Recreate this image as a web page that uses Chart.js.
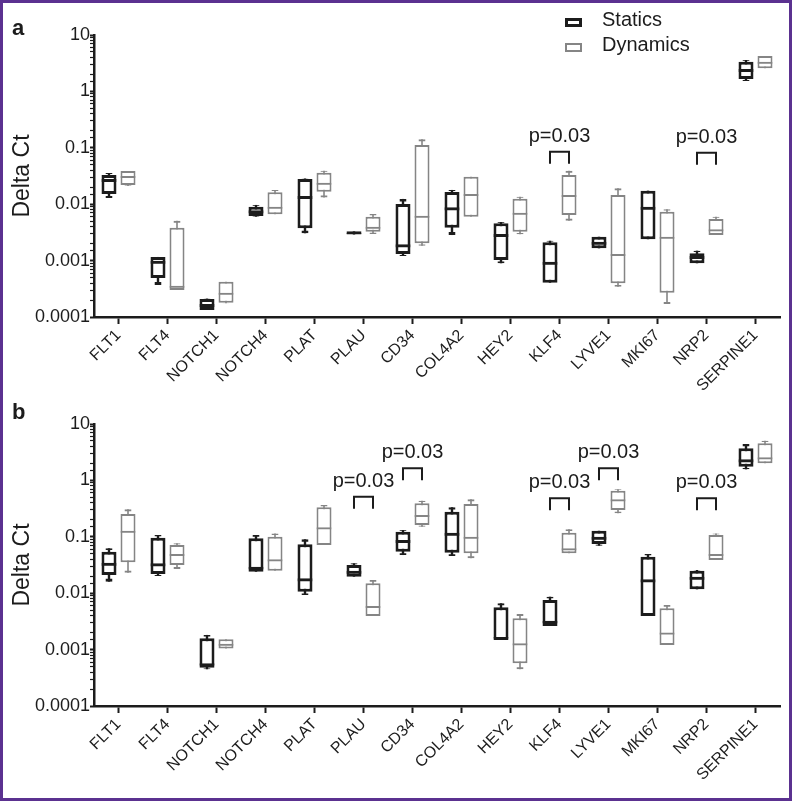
<!DOCTYPE html>
<html>
<head>
<meta charset="utf-8">
<title>Delta Ct - Statics vs Dynamics</title>
<script src="https://cdn.jsdelivr.net/npm/chart.js@4.4.1/dist/chart.umd.min.js"></script>
<style>
  html, body { margin: 0; padding: 0; background: #fff; }
  #wrap { position: relative; width: 792px; height: 801px; overflow: hidden;
          font-family: "Liberation Sans", Arial, sans-serif; color: #1c1c1c; }
  canvas { position: absolute; left: 0; }
  #chartA { top: 0; }
  #chartB { top: 400px; }
  #frame { position: absolute; left: 0; top: 0; width: 792px; height: 801px;
           box-sizing: border-box; border: 3px solid #5b3190; pointer-events: none; }
  .tag { position: absolute; font-weight: bold; font-size: 22px; line-height: 22px; }
  .leg { position: absolute; left: 602px; font-size: 20px; line-height: 20px; }
  .legbox { position: absolute; left: 565px; width: 17px; height: 9px; box-sizing: border-box; }
</style>
</head>
<body>
<div id="wrap">
  <canvas id="chartA" width="792" height="400"></canvas>
  <canvas id="chartB" width="792" height="401"></canvas>
  <div class="tag" style="left:12px; top:17px;">a</div>
  <div class="tag" style="left:12px; top:401px;">b</div>
  <div class="legbox" style="top:18px; border:3px solid #1c1c1c;"></div>
  <div class="leg" style="top:9px;">Statics</div>
  <div class="legbox" style="top:43px; border:2px solid #858585;"></div>
  <div class="leg" style="top:34px;">Dynamics</div>
  <div id="frame"></div>
</div>
<script>
'use strict';

// ======= data =======

var genes = ['FLT1', 'FLT4', 'NOTCH1', 'NOTCH4', 'PLAT', 'PLAU', 'CD34', 'COL4A2',
  'HEY2', 'KLF4', 'LYVE1', 'MKI67', 'NRP2', 'SERPINE1'];

var yTickLabels = ['0.0001', '0.001', '0.01', '0.1', '1', '10'];

// each row: [min, q1, median, q3, max], one row per gene
var staticsA = [
  [0.0129, 0.0152, 0.028, 0.033, 0.0357],
  [0.00037, 0.00049, 0.000995, 0.00116, 0.00116],
  [0.000133, 0.000133, 0.00017, 0.000208, 0.000212],
  [0.006, 0.00618, 0.0078, 0.00903, 0.0097],
  [0.00305, 0.00374, 0.014, 0.028, 0.0286],
  [0.0029, 0.0029, 0.0031, 0.0033, 0.0033],
  [0.00121, 0.00131, 0.00195, 0.0101, 0.0124],
  [0.00284, 0.00383, 0.0088, 0.0164, 0.0179],
  [0.000896, 0.00103, 0.00296, 0.00458, 0.00483],
  [0.000405, 0.000405, 0.000955, 0.00211, 0.00225],
  [0.00165, 0.00165, 0.00216, 0.00265, 0.00265],
  [0.00239, 0.00239, 0.00903, 0.0174, 0.0174],
  [0.000896, 0.000896, 0.00121, 0.00135, 0.0015],
  [1.53, 1.66, 2.5, 3.37, 3.6]
];

var dynamicsA = [
  [0.021, 0.0219, 0.0316, 0.0388, 0.0388],
  [0.000301, 0.000301, 0.000359, 0.00383, 0.0051],
  [0.000176, 0.000179, 0.00027, 0.000423, 0.000423],
  [0.00662, 0.00662, 0.00903, 0.0163, 0.0179],
  [0.0132, 0.0167, 0.024, 0.0362, 0.0393],
  [0.00296, 0.00325, 0.004, 0.006, 0.0067],
  [0.00184, 0.00203, 0.00625, 0.112, 0.1416],
  [0.006, 0.006, 0.0152, 0.0308, 0.0308],
  [0.00292, 0.00325, 0.00706, 0.0125, 0.0136],
  [0.0051, 0.00644, 0.0146, 0.033, 0.0393],
  [0.000345, 0.000396, 0.00131, 0.0146, 0.0191],
  [0.00017, 0.00027, 0.00265, 0.00736, 0.00813],
  [0.00284, 0.00284, 0.00359, 0.00547, 0.006],
  [2.57, 2.57, 3.37, 4.25, 4.25]
];

var staticsB = [
  [0.016, 0.021, 0.0348, 0.0544, 0.0625],
  [0.0202, 0.0219, 0.0339, 0.0964, 0.1076],
  [0.000448, 0.000478, 0.000571, 0.00159, 0.00182],
  [0.024, 0.024, 0.0295, 0.094, 0.1076],
  [0.0093, 0.0106, 0.0184, 0.0736, 0.0903],
  [0.0196, 0.0196, 0.025, 0.0316, 0.0339],
  [0.0475, 0.0544, 0.0877, 0.123, 0.132],
  [0.0457, 0.0522, 0.118, 0.279, 0.334],
  [0.00148, 0.00148, 0.00167, 0.00562, 0.00662],
  [0.00262, 0.00262, 0.00325, 0.00757, 0.00867],
  [0.0695, 0.0745, 0.1, 0.128, 0.128],
  [0.00394, 0.00394, 0.0176, 0.0444, 0.0496],
  [0.0117, 0.0117, 0.0196, 0.025, 0.0258],
  [1.57, 1.75, 2.37, 3.7, 4.41]
];

var dynamicsB = [
  [0.0231, 0.0353, 0.128, 0.254, 0.307],
  [0.0269, 0.0316, 0.0496, 0.0716, 0.0767],
  [0.00105, 0.00105, 0.00127, 0.00152, 0.00152],
  [0.025, 0.025, 0.0399, 0.1, 0.115],
  [0.0716, 0.0716, 0.147, 0.334, 0.366],
  [0.00394, 0.00394, 0.00593, 0.015, 0.0171],
  [0.151, 0.162, 0.244, 0.393, 0.436],
  [0.0416, 0.0509, 0.1, 0.382, 0.463],
  [0.000448, 0.000571, 0.00129, 0.00359, 0.00428],
  [0.0509, 0.0509, 0.0625, 0.118, 0.136],
  [0.261, 0.299, 0.463, 0.656, 0.695],
  [0.00121, 0.00121, 0.002, 0.0054, 0.00618],
  [0.0388, 0.0388, 0.0496, 0.1076, 0.115],
  [2.01, 2.01, 2.57, 4.55, 5.06]
];

// significance brackets: gene, bracket level (Delta Ct), text
var pGenesA = ['KLF4', 'NRP2'];
var pLevelsA = [0.085, 0.082];
var pTextsA = ['p=0.03', 'p=0.03'];

var pGenesB = ['PLAU', 'CD34', 'KLF4', 'LYVE1', 'NRP2'];
var pLevelsB = [0.514, 1.64, 0.482, 1.64, 0.482];
var pTextsB = ['p=0.03', 'p=0.03', 'p=0.03', 'p=0.03', 'p=0.03'];

// ======= styles =======

var FONT = '"Liberation Sans", Arial, sans-serif';
var INK = '#1c1c1c';
var STAT_COLOR = '#1c1c1c';
var DYN_COLOR = '#858585';

Chart.defaults.font.family = FONT;
Chart.defaults.color = INK;

// ======= box plot from floating bars =======

function noBorder() { return { top: 0, right: 0, bottom: 0, left: 0 }; }

function boxDatasets(rows, label, color, lineW, stack) {
  var common = { label: label, stack: stack, categoryPercentage: 0.776, borderSkipped: false };
  var med = Object.assign({}, common, {
    data: rows.map(function (r) { return [r[1], r[2]]; }),
    backgroundColor: 'rgba(0,0,0,0)', borderColor: color,
    borderWidth: Object.assign(noBorder(), { top: lineW }), barPercentage: 0.79
  });
  var box = Object.assign({}, common, {
    data: rows.map(function (r) { return [r[1], r[3]]; }),
    backgroundColor: '#ffffff', borderColor: color, borderWidth: lineW, barPercentage: 0.79
  });
  var capHi = Object.assign({}, common, {
    data: rows.map(function (r) { return [r[3], r[4]]; }),
    backgroundColor: 'rgba(0,0,0,0)', borderColor: color,
    borderWidth: Object.assign(noBorder(), { top: lineW }), barPercentage: 0.37
  });
  var capLo = Object.assign({}, common, {
    data: rows.map(function (r) { return [r[0], r[1]]; }),
    backgroundColor: 'rgba(0,0,0,0)', borderColor: color,
    borderWidth: Object.assign(noBorder(), { bottom: lineW }), barPercentage: 0.37
  });
  var whisker = Object.assign({}, common, {
    data: rows.map(function (r) { return [r[0], r[4]]; }),
    backgroundColor: color, borderWidth: 0, barPercentage: lineW * 0.042
  });
  // first dataset is drawn on top
  return [med, box, capHi, capLo, whisker];
}

// brackets + p text, placed with the chart's own scales
var pBrackets = {
  id: 'pBrackets',
  afterDatasetsDraw: function (chart, args, opts) {
    var ctx = chart.ctx;
    var yScale = chart.scales.y;
    var sMeta = chart.getDatasetMeta(1);
    var dMeta = chart.getDatasetMeta(6);
    opts.genes.forEach(function (g, i) {
      var idx = genes.indexOf(g);
      var x1 = sMeta.data[idx].x;
      var x2 = dMeta.data[idx].x;
      var top = yScale.getPixelForValue(opts.levels[i]);
      ctx.save();
      ctx.strokeStyle = INK;
      ctx.lineWidth = 2;
      ctx.beginPath();
      ctx.moveTo(x1, top + 12);
      ctx.lineTo(x1, top);
      ctx.lineTo(x2, top);
      ctx.lineTo(x2, top + 12);
      ctx.stroke();
      ctx.fillStyle = INK;
      ctx.font = '20px ' + FONT;
      ctx.textAlign = 'center';
      ctx.textBaseline = 'alphabetic';
      ctx.fillText(opts.texts[i], (x1 + x2) / 2, top - 10);
      ctx.restore();
    });
  }
};

function yLabel(v) {
  var l = Math.log10(v);
  var e = Math.round(l);
  if (Math.abs(l - e) > 1e-6) return '';
  return yTickLabels[e + 4] || '';
}

function makeChart(id, statics, dynamics, pGenes, pLevels, pTexts, padTop, xHeight) {
  var ctx = document.getElementById(id).getContext('2d');
  return new Chart(ctx, {
    type: 'bar',
    data: {
      labels: genes,
      datasets: boxDatasets(statics, 'Statics', STAT_COLOR, 3, 'S')
        .concat(boxDatasets(dynamics, 'Dynamics', DYN_COLOR, 2, 'D'))
    },
    plugins: [pBrackets],
    options: {
      responsive: false,
      animation: false,
      events: [],
      layout: { padding: { top: padTop, right: 12, bottom: 0, left: 0 } },
      plugins: {
        legend: { display: false },
        tooltip: { enabled: false },
        pBrackets: { genes: pGenes, levels: pLevels, texts: pTexts }
      },
      scales: {
        x: {
          stacked: true,
          offset: true,
          grid: { drawOnChartArea: false, offset: false, tickLength: 7, tickColor: INK, tickWidth: 2 },
          border: { color: INK, width: 2.5 },
          ticks: { font: { size: 16 }, minRotation: 45, maxRotation: 45, padding: 2, autoSkip: false, color: INK },
          afterFit: function (s) { s.height = xHeight; }
        },
        y: {
          type: 'logarithmic',
          stacked: false,
          min: 0.0001,
          max: 10,
          grid: {
            drawOnChartArea: false, tickLength: 4, tickColor: INK,
            tickWidth: function (c) { return c.tick && c.tick.major ? 2 : 1.2; }
          },
          border: { color: INK, width: 2.5 },
          ticks: { font: { size: 18 }, padding: 0, autoSkip: false, color: INK, callback: yLabel },
          title: { display: true, text: 'Delta Ct', font: { size: 23 }, padding: { top: 9, bottom: 0 }, color: INK },
          afterFit: function (s) { s.width = 94; }
        }
      }
    }
  });
}

makeChart('chartA', staticsA, dynamicsA, pGenesA, pLevelsA, pTextsA, 35, 83);
makeChart('chartB', staticsB, dynamicsB, pGenesB, pLevelsB, pTextsB, 24, 95);
</script>
</body>
</html>
